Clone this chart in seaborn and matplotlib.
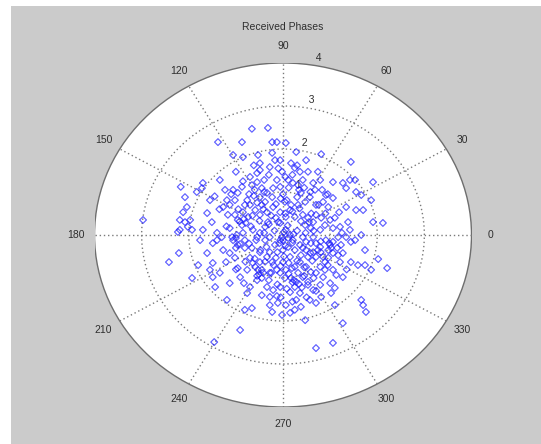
import numpy as np
import pandas as pd
import matplotlib
matplotlib.use("Agg")
import matplotlib.pyplot as plt
from matplotlib.patches import Circle, Rectangle
import seaborn as sns

# ---------------- data (received symbols: real / imaginary parts) ----------------
re_part = [
    -1.38, -0.87, -0.23, -0.13, -1.06, -0.85, -0.53, -0.23, -0.17, -0.49,
    -0.28, -0.55, -0.49, -0.06, -1.34, -1.70, -1.83, -1.72, -2.08, -2.04,
    -2.12, -2.19, -2.08, -1.97, -2.02, -2.19, -1.93, -1.06, -0.96, -0.87,
    -0.70, -0.66, -1.19, -1.27, -1.13, -1.02, -0.76, -0.70, -0.49, -0.38,
    -0.23, -0.34, -0.13, -0.06, -0.55, -0.45, -0.21, -1.61, -1.51, -1.02,
    -0.96, -0.87, -0.85, -0.74, -0.59, -0.49, -0.34, -0.21, -0.06, -1.13,
    -1.49, -1.40, -1.61, -1.80, -1.93, -1.55, -1.49, -1.34, -1.44, -1.13,
    -1.19, -1.06, -0.96, -1.13, -1.02, -0.81, -1.08, -0.98, -0.70, -0.64,
    -0.49, -0.53, -0.42, -0.45, -0.70, -0.76, -0.81, -0.66, -0.91, -0.34,
    -0.21, -0.06, -0.28, -0.28, -0.23, -0.11, -0.06, -0.28, -0.13, -0.55,
    -0.91, -0.38, -0.28, -0.17, -0.06, -0.64, -0.49, -0.38, -0.06, -0.49,
    -0.34, -0.23, -0.85, -0.81, -0.76, -0.59, 0.00,
    0.06, 0.28, 0.49, 0.81, 1.44, 1.91, 0.17, 0.25, 0.36, 0.11,
    0.21, 0.32, 0.42, 0.74, 0.79, 1.06, 1.27, 1.42, 1.53, 1.34,
    1.55, 1.66, 0.64, 0.68, 0.91, 1.06, 0.85, 0.96, 0.57, 0.70,
    0.47, 0.32, 1.34, 1.55, 1.70, 1.87, 1.91, 2.12, 1.66, 0.04,
    0.15, 0.06, 0.25, 0.42, 0.53, 0.64, 0.47, 0.70, 0.81, 0.89,
    0.79, 1.00, 1.06, 1.21, 1.34, 1.44, 1.53, 1.17, 1.06, 1.23,
    0.91, 1.00, 0.96, 0.64, 0.70, 0.79, 0.59, 0.42, 0.49, 0.36,
    0.21, 0.06, 0.15, 0.00, 0.11, 0.25, 0.15, 0.38, 0.53, 0.64,
    0.70, 0.85, 0.96, 1.06, 1.17, 1.27, 1.21, 1.44, 1.59, 1.74,
    1.87, 1.06, 1.13, 1.27, 0.79, 0.89, 0.70, 0.85, 0.49, 0.59,
    0.42, 0.53, 0.25, 0.32, 0.17, 0.28, 0.06, 0.04, 0.25, 0.36,
    0.15, 0.53, 0.64, 0.79, 1.00, 1.10, 1.02, 0.81, 0.70, 0.57,
    0.28, 0.38, 0.25, 0.06, 0.15, 0.47, 1.10, 1.66, 1.70, 1.76,
    1.27, 2.02, 2.21, 1.74, 1.06, 0.70,
    -0.66, -0.32, -2.97, -2.42, -2.21, -2.23, -1.46, -2.17, -1.70, -1.40,
    -1.49, -1.27, -0.02, -0.13,
    -1.00, -0.91, -0.83, -0.79, -0.51, -0.45, 0.02, 0.11, -0.08, 0.23,
    0.34, 0.55, 0.59, 0.98, 1.02, 0.34, 0.38, 0.08, 0.17, -0.15,
    -0.32, -0.57, -0.66, -0.28, -0.15, 0.00, 0.36, 0.49, 0.74, 0.89,
    -0.45, -0.62, -0.81, -1.17, -1.30, -1.21, -0.96, -0.83, 0.19, 1.19,
    1.38, 1.42, 0.83, 0.53, -0.02, -0.40, -1.00, -1.23, -1.55, -1.76,
    -0.72, -0.60, -0.40, -0.30, -0.10, 0.05, 0.20, -0.85, -0.95, -0.65,
    -0.42, -0.15, 0.00, 0.12, 0.30, 0.45, 0.58, 0.20, 0.05, -0.10,
    -0.25, -0.50, -0.68, -0.40, -0.18, 0.10, 0.30, 0.48, 0.65, 0.38,
    -0.55, -0.72, -0.35, -0.12, 0.05, 0.20, 0.42, 0.58, 0.80, 0.30,
    0.12, -0.05, -0.20, -0.38, -0.60, -0.80, -0.55, -0.30, -0.12, 0.08,
    0.20, 0.45, 0.65, 0.40, 0.70, 0.50, 0.20, -0.05, -0.45, -1.00,
    -1.20, -1.35, -1.10, -1.45, 0.90, 1.10, 1.25, 1.15, 0.95, 1.35,
    -0.30, 0.22, -0.02, 0.60, 0.75, -0.92, -1.00, 0.95, 0.30, -0.62,
    0.45, 0.12, -0.25, 0.62, 0.02, -0.48, 0.35, -0.05, -0.55, 0.80,
]
im_part = [
    2.16, 2.16, 2.16, 2.16, 1.86, 1.81, 1.86, 1.91, 1.74, 1.67,
    1.58, 1.44, 1.51, 1.74, 1.28, 1.21, 1.00, 1.09, 0.88, 0.65,
    0.53, 0.35, 0.30, 0.35, 0.19, 0.12, 0.12, 1.05, 0.98, 1.12,
    1.35, 1.16, 0.81, 0.65, 0.70, 0.81, 0.81, 0.70, 0.88, 0.77,
    0.88, 0.98, 1.28, 1.12, 1.23, 1.09, 1.09, 0.51, 0.30, 0.47,
    0.35, 0.23, 0.53, 0.42, 0.58, 0.47, 0.53, 0.65, 0.53, 0.16,
    -0.19, -0.12, -0.42, -0.70, -1.00, -0.81, -0.98, -0.88, -1.21, -1.12,
    -1.51, -0.12, -0.23, -0.42, -0.53, -0.30, -0.05, 0.00, -0.53, -0.65,
    -0.63, -0.81, -0.88, -1.00, -1.21, -1.35, -1.74, -1.70, -2.21, -1.21,
    -1.28, -1.21, -1.44, -1.63, -1.79, -1.58, -0.88, -0.88, -0.81, -1.05,
    -0.98, -0.12, -0.05, -0.23, -0.12, 0.12, 0.05, 0.19, 0.28, -0.40,
    -0.51, -0.63, 0.05, -0.12, -0.81, -0.74, -0.35,
    2.14, 1.93, 1.74, 1.88, 1.70, 1.23, 1.67, 1.56, 1.47, 1.28,
    1.21, 1.16, 1.28, 1.47, 1.28, 1.23, 1.21, 1.28, 1.28, 1.09,
    1.00, 0.93, 1.21, 1.05, 0.93, 0.86, 0.77, 0.65, 0.88, 0.70,
    0.77, 0.70, 0.65, 0.58, 0.58, 0.81, 0.30, 0.28, 0.00, 0.77,
    0.58, 0.42, 0.42, 0.47, 0.40, 0.30, 0.23, 0.47, 0.40, 0.23,
    0.12, 0.35, 0.16, 0.19, -0.05, -0.16, -0.12, -0.05, -0.16, -0.23,
    -0.12, -0.23, -0.35, -0.05, -0.19, -0.28, -0.19, -0.05, -0.16, -0.23,
    -0.12, 0.12, 0.00, -0.12, -0.28, -0.35, -0.51, -0.47, -0.51, -0.40,
    -0.51, -0.51, -0.53, -0.42, -0.47, -0.42, -0.63, -0.63, -0.70, -0.70,
    -0.81, -0.81, -0.93, -0.98, -0.74, -0.81, -0.88, -0.98, -0.74, -0.86,
    -0.98, -1.09, -0.74, -0.88, -1.00, -1.09, -0.81, -1.00, -1.21, -1.35,
    -1.33, -1.16, -1.28, -1.16, -1.12, -1.23, -1.35, -1.44, -1.58, -1.51,
    -1.51, -1.67, -1.74, -1.63, -1.81, -1.98, -1.63, -1.51, -1.63, -1.79,
    -2.05, -0.56, -0.77, -0.35, -2.51, -2.63,
    2.47, 2.49, 0.35, -0.63, -0.42, 0.07, -2.49, 1.12, 0.12, 0.05,
    -0.65, -0.35, -1.86, -1.42,
    -0.07, -0.21, 0.37, 0.28, -0.91, -0.81, 0.07, -0.07, -0.19, -1.05,
    -1.14, 0.30, 0.16, -0.19, -0.30, 1.05, 0.98, 0.81, 0.70, 0.40,
    0.30, -0.12, -0.30, -0.40, -0.53, -0.63, -0.63, -0.35, -0.35, -0.63,
    0.70, 0.91, 0.70, 0.47, -0.05, -0.63, -0.77, -1.12, -0.77, 0.53,
    0.30, 0.12, 1.05, 1.47, 1.47, 1.28, 1.47, 1.05, 0.81, -0.12,
    0.95, 1.05, 1.00, 1.40, 1.55, 1.35, 1.40, 1.25, 0.60, 0.45,
    0.60, 0.72, 0.95, 1.10, 0.88, 1.10, 1.00, 0.55, 0.50, 0.30,
    0.45, 0.33, 0.20, 0.05, 0.10, 0.22, 0.10, 0.05, 0.10, 0.32,
    -0.05, -0.20, -0.28, -0.40, -0.25, -0.18, -0.30, -0.42, -0.40, -0.60,
    -0.65, -0.72, -0.70, -0.62, -0.55, -0.62, -0.95, -1.05, -1.15, -1.25,
    -1.10, -0.95, -1.00, -1.22, -1.30, -1.45, -1.55, -1.45, -1.40, -0.30,
    0.20, 0.60, 0.95, 0.90, 0.50, 0.40, 0.05, -0.30, -0.70, -0.80,
    0.25, 0.02, -0.05, 0.50, 0.70, 0.32, -0.80, 0.95, 1.62, 1.62,
    -0.75, -0.90, -0.88, -0.60, -0.50, -0.35, 0.62, 0.85, 0.75, -0.15,
]

ring_values = [1, 2, 3, 4]
angle_labels = [0, 30, 60, 90, 120, 150, 180, 210, 240, 270, 300, 330]
title_text = "Received Phases"

# ---------------- figure ----------------
W, H = 541, 444
fig = plt.figure(figsize=(W / 100, H / 100), dpi=100)
fig.patch.set_facecolor("white")
fig.patches.append(Rectangle((11 / W, 0), 1 - 11 / W, 1 - 6 / H,
                             transform=fig.transFigure, facecolor="#cbcbcb",
                             edgecolor="none", zorder=-10))

cx, cy, rx, ry = 283, 235, 188.5, 172
ax = fig.add_axes([(cx - rx) / W, (H - cy - ry) / H, 2 * rx / W, 2 * ry / H])
ax.set_zorder(1)
ax.patch.set_visible(False)

rmax = ring_values[-1]
ax.add_patch(Circle((0, 0), rmax, facecolor="white", edgecolor="#6e6e6e",
                    linewidth=1.0, zorder=1))

grid_kw = dict(color="#7a7a7a", linewidth=1.0, linestyle=(0, (1, 2)), zorder=2)
t = np.linspace(0, 2 * np.pi, 400)
for r in ring_values[:-1]:
    ax.plot(r * np.cos(t), r * np.sin(t), **grid_kw)
for a in angle_labels[:6]:
    th = np.deg2rad(a)
    ax.plot([-rmax * np.cos(th), rmax * np.cos(th)],
            [-rmax * np.sin(th), rmax * np.sin(th)], **grid_kw)

font = dict(family=["Liberation Sans", "DejaVu Sans"], size=7.5, color="#2e2e2e")

c82, s82 = np.cos(np.deg2rad(82)), np.sin(np.deg2rad(82))
for r in ring_values:
    ax.text((r + 0.05) * c82, (r + 0.05) * s82, "  " + str(r),
            ha="left", va="bottom", zorder=2, clip_on=False, **font)

for a in angle_labels:
    th = np.deg2rad(a)
    ax.text(1.1 * rmax * np.cos(th), 1.1 * rmax * np.sin(th), str(a),
            ha="center", va="center", clip_on=False, **font)

df = pd.DataFrame({"re": re_part, "im": im_part})
sns.scatterplot(data=df, x="re", y="im", marker="D", s=12, ax=ax,
                legend=False, zorder=3)
pts = ax.collections[-1]
pts.set_facecolor("none")
pts.set_edgecolor((0.12, 0.12, 1.0, 0.72))
pts.set_linewidth(0.85)

ax.set_xlim(-4, 4)
ax.set_ylim(-4, 4)
ax.set_aspect("auto")
ax.set_xticks([])
ax.set_yticks([])
for sp in ax.spines.values():
    sp.set_visible(False)
ax.set_xlabel("")
ax.set_ylabel("")

fig.text(cx / W, 1 - 27 / H, title_text, ha="center", va="center", **font)

fig.savefig("out.png", dpi=100)
